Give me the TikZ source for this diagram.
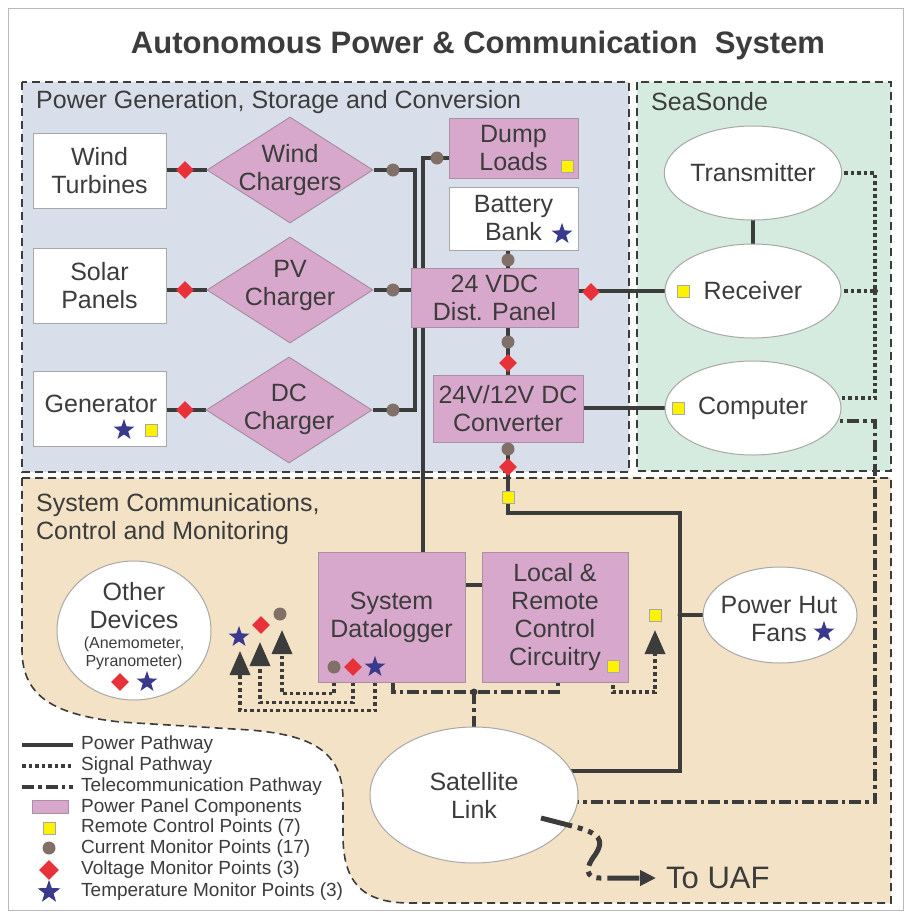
\documentclass[tikz,border=0pt]{standalone}
\usepackage{fontspec}
\setmainfont{Liberation Sans}
\usetikzlibrary{shapes.geometric,arrows.meta,calc}
\pgfdeclarelayer{back}
\pgfdeclarelayer{mid}
\pgfsetlayers{back,mid,main}

\definecolor{ink}{HTML}{3C3C3C}
\definecolor{powbg}{HTML}{D9DFEA}
\definecolor{seabg}{HTML}{D5EBDF}
\definecolor{combg}{HTML}{F4E2C6}
\definecolor{panel}{HTML}{D8A8CC}
\definecolor{panelrim}{HTML}{A890A2}
\definecolor{rim}{HTML}{A8A8A8}
\definecolor{rcyellow}{HTML}{FFF200}
\definecolor{curbrown}{HTML}{807068}
\definecolor{voltred}{HTML}{E8323A}
\definecolor{tempblue}{HTML}{3A3A8C}

\tikzset{
  lbl/.style={font=\fontsize{25pt}{28pt}\selectfont, text=ink, align=center},
  leg/.style={font=\fontsize{19pt}{22pt}\selectfont, text=ink, anchor=west, inner sep=0pt},
  whitebox/.style={rectangle, draw=rim, line width=1pt, fill=white, inner sep=0pt, lbl},
  panelbox/.style={rectangle, draw=panelrim, line width=1pt, fill=panel, inner sep=0pt, lbl},
  chg/.style={diamond, draw=panelrim, fill=panel, line width=1pt, minimum width=166pt, minimum height=106pt, inner sep=0pt},
  oval/.style={ellipse, draw=rim, fill=white, line width=1pt, inner sep=0pt, lbl},
  pw/.style={draw=ink, line width=3.5pt},
  sig/.style={draw=ink, line width=3.5pt, dash pattern=on 3.5pt off 3pt},
  tele/.style={draw=ink, line width=3.5pt, dash pattern=on 12pt off 4pt on 3.5pt off 4pt},
  region/.style={draw=ink, line width=1.6pt, dash pattern=on 8pt off 5pt},
  rc/.style={rectangle, fill=rcyellow, draw=rim, line width=0.8pt, minimum size=12pt, inner sep=0pt},
  cur/.style={circle, fill=curbrown, minimum size=13pt, inner sep=0pt},
  volt/.style={diamond, fill=voltred, minimum width=18pt, minimum height=18pt, inner sep=0pt},
  temp/.style={star, star points=5, star point ratio=2.5, fill=tempblue, minimum size=22pt, inner sep=0pt},
  sigtip/.style={-{Triangle[width=20pt,length=24pt]}},
  joint/.style={circle, fill=ink, minimum size=6pt, inner sep=0pt},
}

\begin{document}
\begin{tikzpicture}[x=1pt, y=-1pt]
\useasboundingbox (0,0) rectangle (908,914);

% ---------- background, frame and regions ----------
\begin{pgfonlayer}{back}
  \fill[white] (0,0) rectangle (908,914);
  \draw[gray!55, line width=1pt] (8,8) rectangle (903,910);
  \fill[powbg] (22,82) rectangle (629,472);
  \draw[region] (22,82) rectangle (629,472);
  \fill[seabg] (637,82) rectangle (891,471);
  \draw[region] (637,82) rectangle (891,471);
  \path[fill=combg, region] (22,478) -- (891,478) -- (891,903) -- (410,903)
     .. controls (360,903) and (343,880) .. (343,835) -- (343,800)
     .. controls (343,750) and (310,735) .. (250,730) -- (120,722)
     .. controls (60,715) and (22,700) .. (22,650) -- cycle;
\end{pgfonlayer}

% ---------- titles ----------
\node[font=\fontsize{31pt}{34pt}\selectfont\bfseries, text=ink] (title) at (478,45) {Autonomous Power \& Communication\ \ System};
\node[lbl, anchor=west, inner sep=0pt] (powtitle) at (36,102) {Power Generation, Storage and Conversion};
\node[lbl, anchor=west, inner sep=0pt] (seatitle) at (651,102) {SeaSonde};
\node[lbl, anchor=west, inner sep=0pt, align=left] (comtitle) at (36,519) {System Communications,\\Control and Monitoring};

% ---------- power generation ----------
\node[whitebox, minimum width=133pt, minimum height=75pt] (wt) at (99.5,171) {Wind\\Turbines};
\node[whitebox, minimum width=133pt, minimum height=75pt] (sp) at (99.5,285.5) {Solar\\Panels};
\node[whitebox, minimum width=133pt, minimum height=75pt] (gen) at (99.5,409) {};
\node[lbl] (gentxt) at (101,404) {Generator};
\node[temp] (genT) at (124,430) {};
\node[rc] (genR) at (151,430) {};

\node[chg] (wc) at (290,170) {};
\node[lbl] (wctxt) at (290,170) {Wind\\Chargers};
\node[chg] (pc) at (290,290) {};
\node[lbl] (pctxt) at (290,285) {PV\\Charger};
\node[chg] (dc) at (289,410) {};
\node[lbl] (dctxt) at (289,409) {DC\\Charger};

\node[volt] (wv) at (185,170) {};
\node[volt] (pv) at (185,290) {};
\node[volt] (dv) at (185,410) {};
\node[cur] (wcC) at (393,170) {};
\node[cur] (pcC) at (393,290) {};
\node[cur] (dcC) at (393,410) {};

% ---------- storage and conversion ----------
\node[panelbox, minimum width=129pt, minimum height=60pt] (dump) at (513.5,148) {Dump\\Loads};
\node[rc] (dumpR) at (567,166) {};
\node[cur] (dumpC) at (437,158) {};
\node[whitebox, minimum width=129pt, minimum height=63pt] (bat) at (513.5,218.5) {Battery\\Bank};
\node[temp] (batT) at (562,234) {};
\node[panelbox, minimum width=167pt, minimum height=59pt] (dist) at (494.5,297.5) {24 VDC\\Dist. Panel};
\node[panelbox, minimum width=150pt, minimum height=67pt] (conv) at (508,408.5) {24V/12V DC\\Converter};
\node[cur] (batC) at (508,260) {};
\node[volt] (distV) at (591,292) {};
\node[cur] (distC) at (508,342) {};
\node[volt] (distV2) at (508,363) {};
\node[cur] (convC) at (508,449) {};
\node[volt] (convV) at (508,467) {};
\node[rc] (convR) at (508,497) {};

% ---------- SeaSonde ----------
\node[oval, minimum width=176pt, minimum height=94pt] (tx) at (753,173) {Transmitter};
\node[oval, minimum width=176pt, minimum height=94pt] (rec) at (753,291) {Receiver};
\node[rc] (recR) at (683,291) {};
\node[oval, minimum width=176pt, minimum height=94pt] (comp) at (753,408) {Computer};
\node[rc] (compR) at (678,408) {};

% ---------- communications, control and monitoring ----------
\node[panelbox, minimum width=147pt, minimum height=130pt] (dl) at (391.5,617) {System\\Datalogger};
\node[cur] (dlC) at (334,667) {};
\node[volt] (dlV) at (353,667) {};
\node[temp] (dlT) at (375,667) {};
\node[panelbox, minimum width=146pt, minimum height=130pt] (lc) at (555,617) {Local \&\\Remote\\Control\\Circuitry};
\node[rc] (lcR) at (613,666) {};

\node[ellipse, draw=rim, fill=white, line width=1pt, minimum width=154pt, minimum height=139pt, inner sep=0pt] (od) at (134,630.5) {};
\node[lbl] (odtxt) at (134,606) {Other\\Devices};
\node[font=\fontsize{16pt}{18pt}\selectfont, text=ink, align=center, inner sep=0pt] (odsub) at (134,653) {(Anemometer,\\Pyranometer)};
\node[volt] (odV) at (120,682) {};
\node[temp] (odT) at (147,682) {};

\node[oval, minimum width=154pt, minimum height=96pt] (fans) at (780,615) {};
\node[lbl] (fanstxt) at (779,619) {Power Hut\\Fans};
\node[temp] (fansT) at (824,632) {};

\node[oval, minimum width=208pt, minimum height=136pt] (sat) at (474,795) {Satellite\\Link};

% icons above the signal arrow ends
\node[cur] (sAi) at (280,614) {};
\node[volt] (sBi) at (261,625) {};
\node[temp] (sCi) at (239,637) {};
\node[rc] (sDi) at (655,615) {};

% ---------- connector corners ----------
\coordinate (bw) at (415,170);
\coordinate (bd) at (415,410);
\coordinate (bt) at (423,158);
\coordinate (p1) at (508,513);
\coordinate (p2) at (680,513);
\coordinate (p3) at (680,771);
\coordinate (pf) at (680,615);
\coordinate (lk) at (474,585);
\coordinate (sq1) at (875,173);
\coordinate (sq2) at (875,398);
\coordinate (sqr) at (875,291);
\coordinate (tc1) at (875,421);
\coordinate (tc2) at (875,802);
\coordinate (ta) at (393,692);
\coordinate (tb) at (558,692);
\coordinate (tj) at (474,692);
\coordinate (sA) at (282,630);
\coordinate (sB) at (260,642);
\coordinate (sC) at (240,651);
\coordinate (sD) at (655,630);

\begin{pgfonlayer}{mid}
  % power pathways
  \draw[pw] (wt.east |- wc) -- (wc.west);
  \draw[pw] (sp.east |- pc) -- (pc.west);
  \draw[pw] (gen.east |- dc) -- (dc.west);
  \draw[pw] (wc.east) -- (bw) -- (bd) -- (dc.east);
  \draw[pw] (pc.east) -- (dist.west |- pc);
  \draw[pw] (dl.north -| bt) -- (bt) -- (dump.west |- bt);
  \draw[pw] (bat.south -| conv) -- (dist.north -| conv);
  \draw[pw] (dist.south -| conv) -- (conv.north);
  \draw[pw] (dist.east |- rec) -- (rec.center);
  \draw[pw] (conv.east |- comp) -- (comp.center);
  \draw[pw] (tx.center) -- (rec.center);
  \draw[pw] (conv.south) -- (p1) -- (p2) -- (p3) -- (sat.center |- p3);
  \draw[pw] (pf) -- (fans.center);
  \draw[pw] (dl.east |- lk) -- (lc.west |- lk);
  % signal pathways
  \draw[sig] (tx.center) -- (sq1) -- (sq2) -- (comp.center |- sq2);
  \draw[sig] (rec.center) -- (sqr);
  \draw[sig, sigtip] (dlC |- dl.south) -- ++(0,11) -| (sA);
  \draw[sig, sigtip] (dlV |- dl.south) -- ++(0,20) -| (sB);
  \draw[sig, sigtip] (dlT |- dl.south) -- ++(0,28) -| (sC);
  \draw[sig, sigtip] (lcR.south) -- (lcR.south |- tb) -| (sD);
  % telecommunication pathways
  \draw[tele] (comp.center |- tc1) -- (tc1) -- (tc2) -- (sat.center |- tc2);
  \draw[tele] (dl.south -| ta) -- (ta) -- (tb) -- (lc.south -| tb);
  \draw[tele] (tj) -- (sat.north);
\end{pgfonlayer}

\node[joint] (jr) at (sqr) {};
\node[joint, minimum size=5pt] (jf) at (pf) {};
\node[joint, minimum size=7pt] (jt) at (tj) {};

% ---------- link out ----------
\node[font=\fontsize{31pt}{34pt}\selectfont, text=ink, anchor=west, inner sep=0pt] (uaf) at (666,878) {To UAF};
\coordinate (u0) at (541,818);
\draw[ink, line width=5pt, dash pattern=on 32pt off 6pt on 5pt off 6pt on 5pt off 6pt,
      -{Triangle[width=15pt,length=16pt]}]
  (u0) -- (572,826) .. controls (600,833) and (605,840) .. (595,855)
  .. controls (585,868) and (585,878) .. (600,878) -- ($(uaf.west)+(-10,0)$);

% ---------- legend ----------
\coordinate (la1) at (22,745); \coordinate (lb1) at (73,745);
\coordinate (la2) at (22,766); \coordinate (lb2) at (73,766);
\coordinate (la3) at (22,787); \coordinate (lb3) at (73,787);
\draw[pw] (la1) -- (lb1);
\draw[sig] (la2) -- (lb2);
\draw[tele] (la3) -- (lb3);
\node[leg] (lt1) at (81,745) {Power Pathway};
\node[leg] (lt2) at (81,766) {Signal Pathway};
\node[leg] (lt3) at (81,787) {Telecommunication Pathway};
\node[rectangle, draw=panelrim, fill=panel, line width=1pt, minimum width=36pt, minimum height=13pt, inner sep=0pt] (lk4) at (50,807) {};
\node[leg] (lt4) at (81,808) {Power Panel Components};
\node[rc] (lk5) at (49,828) {};
\node[leg] (lt5) at (81,828) {Remote Control Points (7)};
\node[cur] (lk6) at (49,848) {};
\node[leg] (lt6) at (81,849) {Current Monitor Points (17)};
\node[volt, minimum width=20pt, minimum height=20pt] (lk7) at (49,870) {};
\node[leg] (lt7) at (81,870) {Voltage Monitor Points (3)};
\node[temp, minimum size=24pt] (lk8) at (49,892) {};
\node[leg] (lt8) at (81,892) {Temperature Monitor Points (3)};

\end{tikzpicture}
\end{document}
